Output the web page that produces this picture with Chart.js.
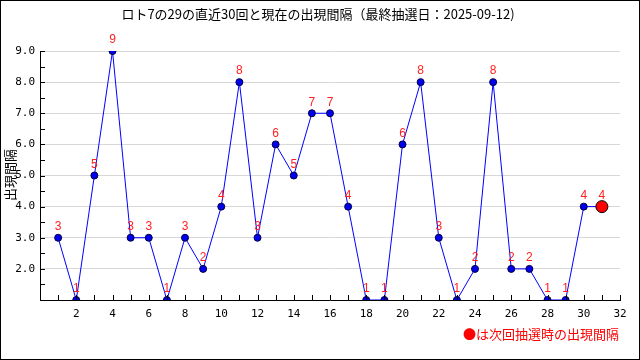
<!DOCTYPE html>
<html>
<head>
<meta charset="utf-8">
<script src="https://cdn.jsdelivr.net/npm/chart.js@4"></script>
<style>
  html, body { margin:0; padding:0; background:#fff; }
  #wrap { width:640px; height:360px; position:relative; }
</style>
</head>
<body>
<div id="wrap"><canvas id="intervalChart" width="640" height="360"></canvas></div>
<script>
// data
let draws=[1,2,3,4,5,6,7,8,9,10,11,12,13,14,15,16,17,18,19,20,21,22,23,24,25,26,27,28,29,30];
let intervals=[3,1,5,9,3,3,1,3,2,4,8,3,6,5,7,7,4,1,1,6,8,3,1,2,8,2,2,1,1,4];
let nextDraw=[31];
let nextInterval=[4];
let xTicks=[2,4,6,8,10,12,14,16,18,20,22,24,26,28,30,32];
let yTicks=[2,3,4,5,6,7,8,9];
let titleText='ロト7の29の直近30回と現在の出現間隔（最終抽選日：2025-09-12)';
let yTitle='出現間隔';
let noteText='●は次回抽選時の出現間隔';

let ctxEl=document.getElementById("intervalChart");

//draws the extras: frame, title, inward ticks, value labels
let extras={
  id:'extras',
  beforeDraw(chart){
    let c=chart.ctx;
    c.save();
    c.fillStyle='#fff';
    c.fillRect(0,0,640,360);
    c.restore();
  },
  afterDraw(chart){
    let c=chart.ctx;
    let xs=chart.scales.x, ys=chart.scales.y;
    let a=chart.chartArea;
    c.save();
    // frame
    c.strokeStyle='#000';
    c.lineWidth=1;
    c.strokeRect(0.5,0.5,639,359);
    // inward ticks
    c.beginPath();
    for(let v=1;v<=9;v+=0.5){
      let y=Math.round(ys.getPixelForValue(v))+0.5;
      c.moveTo(a.left,y); c.lineTo(a.left+5,y);
    }
    for(let v=1;v<=32;v++){
      let x=Math.round(xs.getPixelForValue(v))+0.5;
      c.moveTo(x,a.bottom); c.lineTo(x,a.bottom-5);
    }
    c.stroke();
    // title
    c.fillStyle='#000';
    c.font='13px "Noto Sans CJK JP"';
    c.textAlign='center';
    c.textBaseline='middle';
    c.fillText(titleText,318,14);
    // y title
    c.save();
    c.translate(10,175);
    c.rotate(-Math.PI/2);
    c.fillText(yTitle,0,0);
    c.restore();
    // note
    c.fillStyle='#ff0000';
    c.textAlign='right';
    c.fillText(noteText,619,334);
    // value labels
    c.font='12px "Liberation Sans"';
    c.textAlign='center';
    c.textBaseline='middle';
    chart.data.datasets.forEach((ds,i)=>{
      chart.getDatasetMeta(i).data.forEach((pt,j)=>{
        c.fillStyle='#ff2020';
        c.fillText(String(ds.data[j].y),pt.x,pt.y-11);
      });
    });
    c.restore();
  }
};

let mainPts=draws.map((d,i)=>({x:d,y:intervals[i]}));
let lastPts=nextDraw.map((d,i)=>({x:d,y:nextInterval[i]}));
// connector from last draw to current
let linkPts=[mainPts[mainPts.length-1],lastPts[0]];

let intervalChart=new Chart(ctxEl,{
  type:'scatter',
  data:{
    datasets:[{
      data:mainPts,
      showLine:true,
      borderColor:'#0000ff',
      borderWidth:1,
      backgroundColor:'#0000ee',
      pointBorderColor:'#000040',
      pointBorderWidth:1,
      pointRadius:3.5,
      order:1
    },{
      data:lastPts,
      backgroundColor:'#ff0000',
      pointBorderColor:'#000',
      pointBorderWidth:1,
      pointRadius:6,
      order:0
    }]
  },
  plugins:[extras,{
    id:'link',
    beforeDatasetsDraw(chart){
      let c=chart.ctx, xs=chart.scales.x, ys=chart.scales.y;
      c.save();
      c.strokeStyle='#0000ff';
      c.lineWidth=1;
      c.beginPath();
      c.moveTo(xs.getPixelForValue(linkPts[0].x),ys.getPixelForValue(linkPts[0].y));
      c.lineTo(xs.getPixelForValue(linkPts[1].x),ys.getPixelForValue(linkPts[1].y));
      c.stroke();
      c.restore();
    }
  }],
  options:{
    responsive:false,
    animation:false,
    layout:{padding:{left:0,right:20,top:51,bottom:0}},
    plugins:{legend:{display:false},tooltip:{enabled:false}},
    scales:{
      x:{
        type:'linear',min:0,max:32,
        afterFit(s){ s.height=60; },
        afterBuildTicks(s){ s.ticks=xTicks.map(v=>({value:v})); },
        grid:{display:false,drawTicks:false},
        border:{color:'#000',width:1},
        ticks:{color:'#000',padding:8,font:{family:'DejaVu Sans Mono',size:11},maxRotation:0}
      },
      y:{
        min:1,max:9,
        afterFit(s){ s.width=40; },
        afterBuildTicks(s){ s.ticks=yTicks.map(v=>({value:v})); },
        grid:{color:'#d8d8d8',drawTicks:false},
        border:{color:'#000',width:1},
        ticks:{color:'#000',padding:5,font:{family:'DejaVu Sans Mono',size:11},callback:v=>v.toFixed(1)}
      }
    }
  }
});
</script>
</body>
</html>
